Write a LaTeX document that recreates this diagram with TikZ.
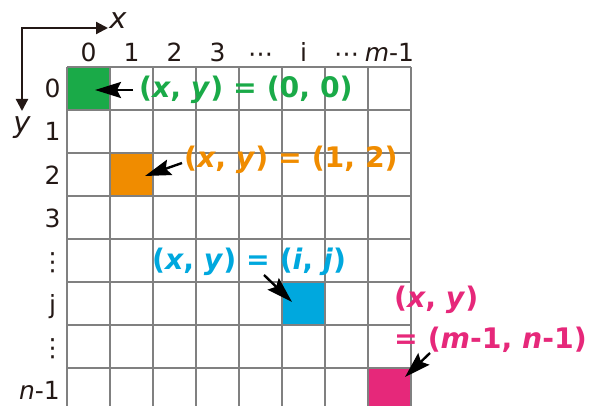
\documentclass[tikz,border=0pt]{standalone}
\usepackage{fontspec}
\setmainfont{DejaVu Sans}
\usetikzlibrary{arrows.meta}
\definecolor{cgreen}{RGB}{26,170,72}
\definecolor{corange}{RGB}{240,140,0}
\definecolor{cblue}{RGB}{0,168,222}
\definecolor{cpink}{RGB}{230,40,122}
\definecolor{gridgray}{RGB}{128,128,128}
\definecolor{axisblack}{RGB}{35,24,21}
\begin{document}
\begin{tikzpicture}[x=1pt,y=-1pt,
  gridline/.style={draw=gridgray,line width=1.6pt},
  cell/.style={minimum size=43pt,inner sep=0pt,draw=none},
  lab/.style={font=\fontsize{25}{28}\selectfont,inner sep=0pt,text=axisblack},
  axlab/.style={font=\fontsize{29}{31}\selectfont\itshape,inner sep=0pt,text=axisblack},
  ann/.style={font=\fontsize{28.3}{31}\selectfont\bfseries,inner sep=0pt,anchor=west},
  ptr/.style={line width=2.4pt,draw=black,-{Stealth[length=26pt,width=16pt,inset=4pt]}},
  axis/.style={line width=2.2pt,draw=axisblack,{Triangle[length=12pt,width=12pt]}-{Triangle[length=12pt,width=12pt]}}]
\useasboundingbox (0,0) rectangle (593,406);
% coloured cells
\node[cell,fill=cgreen]  (c00) at (88.5,88.5) {};
\node[cell,fill=corange] (c12) at (131.5,174.5) {};
\node[cell,fill=cblue]   (cij) at (303.5,303.5) {};
\node[cell,fill=cpink]   (cmn) at (389.5,389.5) {};
% grid
\foreach \i in {0,...,8} \draw[gridline] ({67+43*\i},67) -- ({67+43*\i},406);
\foreach \i in {0,...,7} \draw[gridline] (67,{67+43*\i}) -- (411,{67+43*\i});
% axes
\coordinate (o) at (22,28);
\coordinate (xe) at (108,28);
\coordinate (ye) at (22,111);
\draw[axis] (ye) -- (o) -- (xe);
\node[axlab] (xl) at (118,21) {x};
\node[axlab] (yl) at (22,128) {y};
% column labels
\node[lab,anchor=base] (col0) at (88.5,62) {0};
\node[lab,anchor=base] (col1) at (131.5,62) {1};
\node[lab,anchor=base] (col2) at (174.5,62) {2};
\node[lab,anchor=base] (col3) at (217.5,62) {3};
\node[lab,anchor=base] (col4) at (260.5,63) {⋯};
\node[lab,anchor=base] (col5) at (303.5,62) {i};
\node[lab,anchor=base] (col6) at (346.5,63) {⋯};
\node[lab,anchor=base] (col7) at (389.5,62) {\textit{m}-1};
% row labels
\node[lab,anchor=base] (row0) at (52.5,98) {0};
\node[lab,anchor=base] (row1) at (52.5,141) {1};
\node[lab,anchor=base] (row2) at (52.5,184) {2};
\node[lab,anchor=base] (row3) at (52.5,227) {3};
\node[lab,anchor=base] (row4) at (52.5,270) {⋮};
\node[lab,anchor=base] (row5) at (52.5,313) {j};
\node[lab,anchor=base] (row6) at (52.5,356) {⋮};
\node[lab,anchor=base east] (row7) at (60,399) {\textit{n}-1};
% annotations
\node[ann,text=cgreen]  (tg) at (139,90) {(\textit{x}, \textit{y}) = (0, 0)};
\node[ann,text=corange] (to) at (184,160) {(\textit{x}, \textit{y}) = (1, 2)};
\node[ann,text=cblue]   (tb) at (152,262) {(\textit{x}, \textit{y}) = (\textit{i}, \textit{j})};
\node[ann,text=cpink]   (tp1) at (394,300) {(\textit{x}, \textit{y})};
\node[ann,text=cpink]   (tp2) at (394,340) {= (\textit{m}-1, \textit{n}-1)};
% pointers
\coordinate (g0) at (133,90);  \coordinate (g1) at (95,90);
\coordinate (o0) at (182,163); \coordinate (o1) at (145,176);
\coordinate (b0) at (264,275); \coordinate (b1) at (292,302);
\coordinate (p0) at (430,353); \coordinate (p1) at (405,377);
\draw[ptr] (g0) -- (g1);
\draw[ptr] (o0) -- (o1);
\draw[ptr] (b0) -- (b1);
\draw[ptr] (p0) -- (p1);
\end{tikzpicture}
\end{document}
